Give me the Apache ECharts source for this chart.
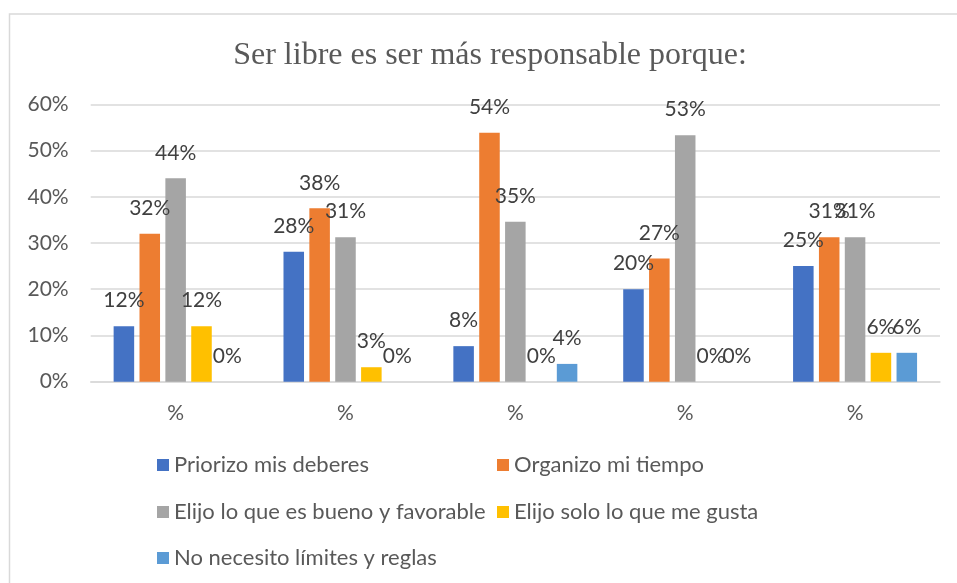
<!DOCTYPE html>
<html>
<head>
<meta charset="utf-8">
<script src="https://cdn.jsdelivr.net/npm/echarts@6/dist/echarts.min.js"></script>
<style>
  html, body { margin: 0; padding: 0; background: #fff; }
  #chart { width: 957px; height: 583px; }
</style>
</head>
<body>
<div id="chart"></div>
<script>
// chart values (shares, 0..1)
const categories = ["%", "%", "%", "%", "%"];
const seriesNames = [
  "Priorizo mis deberes",
  "Organizo mi tiempo",
  "Elijo lo que es bueno y favorable",
  "Elijo solo lo que me gusta",
  "No necesito límites y reglas"
];
const priorizo = [0.12, 0.2813, 0.0769, 0.2, 0.25];
const organizo = [0.32, 0.375, 0.5385, 0.2667, 0.3125];
const eligeBueno = [0.44, 0.3125, 0.3462, 0.5333, 0.3125];
const eligeGusta = [0.12, 0.0313, 0, 0, 0.0625];
const sinLimites = [0, 0, 0.0385, 0, 0.0625];
const yTicks = [0, 0.1, 0.2, 0.3, 0.4, 0.5, 0.6];

const colors = ["#4472C4", "#ED7D31", "#A5A5A5", "#FFC000", "#5B9BD5"];
const values = [priorizo, organizo, eligeBueno, eligeGusta, sinLimites];
const sansFont = "Lato";
const pct = v => Math.round(v * 100) + "%";

// legend item spots, Excel-like two columns
const legendSpots = [[157, 454], [497, 454], [157, 501], [497, 501], [157, 547]];

const chart = echarts.init(document.getElementById("chart"));

chart.setOption({
  animation: false,
  color: colors,
  title: {
    text: "Ser libre es ser más responsable porque:",
    left: 490,
    top: 40,
    textAlign: "center",
    padding: 0,
    textStyle: {
      fontFamily: "Liberation Serif",
      fontWeight: "normal",
      fontSize: 32,
      color: "#595959"
    }
  },
  graphic: [{
    type: "rect",
    shape: { x: 9.5, y: 14, width: 1000, height: 600 },
    style: { fill: "none", stroke: "#D9D9D9", lineWidth: 1.5 },
    silent: true
  }],
  legend: seriesNames.map((name, i) => ({
    data: [name],
    left: legendSpots[i][0],
    top: legendSpots[i][1],
    padding: 0,
    icon: "rect",
    itemWidth: 12,
    itemHeight: 12,
    selectedMode: false,
    textStyle: { fontFamily: sansFont, fontSize: 22, color: "#595959" }
  })),
  grid: { left: 90.7, right: 17, top: 104.3, bottom: 201.3 },
  xAxis: {
    type: "category",
    data: categories,
    axisTick: { show: false },
    axisLine: { lineStyle: { color: "#D9D9D9", width: 1.5 } },
    axisLabel: { margin: 21, fontFamily: sansFont, fontSize: 21, color: "#595959" }
  },
  yAxis: {
    type: "value",
    min: yTicks[0],
    max: yTicks[yTicks.length - 1],
    interval: 0.1,
    axisLine: { show: false },
    axisTick: { show: false },
    splitLine: { lineStyle: { color: "#D9D9D9", width: 1.5 } },
    axisLabel: {
      margin: 22,
      fontFamily: sansFont,
      fontSize: 21,
      color: "#595959",
      formatter: pct
    }
  },
  series: seriesNames.map((name, i) => ({
    name: name,
    type: "bar",
    data: values[i],
    barGap: "26%",
    barCategoryGap: "27%",
    itemStyle: { color: colors[i] },
    label: {
      show: true,
      position: "top",
      distance: 15,
      fontFamily: sansFont,
      fontSize: 21,
      color: "#404040",
      formatter: p => pct(p.value)
    }
  }))
});
</script>
</body>
</html>
